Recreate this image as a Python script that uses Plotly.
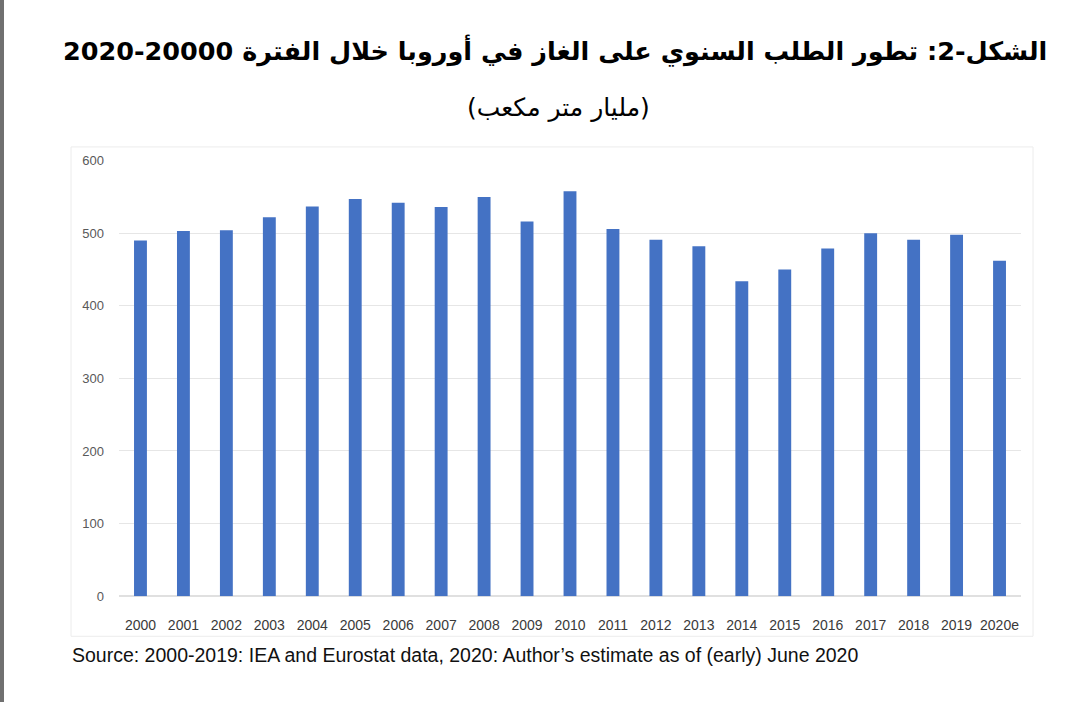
import plotly.graph_objects as go

years = ["2000", "2001", "2002", "2003", "2004", "2005", "2006", "2007", "2008", "2009", "2010",
         "2011", "2012", "2013", "2014", "2015", "2016", "2017", "2018", "2019", "2020e"]
demand = [490, 503, 504, 522, 537, 547, 542, 536, 550, 516, 558,
          506, 491, 482, 434, 450, 479, 500, 491, 498, 462]
y_ticks = [0, 100, 200, 300, 400, 500, 600]

title_text = "\u202bالشكل-2: تطور الطلب السنوي على الغاز في أوروبا خلال الفترة 20000-2020\u202c"
subtitle_text = "\u202b(مليار متر مكعب)\u202c"
source_text = "Source: 2000-2019: IEA and Eurostat data, 2020: Author\u2019s estimate as of (early) June 2020"

W, H = 1080, 702

def px(x):
    return x / W

def py(y):
    return 1 - y / H

fig = go.Figure()
fig.add_trace(go.Bar(x=years, y=demand, marker=dict(color="#4472C4", line=dict(width=0)),
                     hoverinfo="x+y"))

fig.update_layout(
    width=W, height=H, autosize=False,
    margin=dict(l=0, r=0, t=0, b=0),
    paper_bgcolor="white", plot_bgcolor="white",
    bargap=0.7, showlegend=False,
    xaxis=dict(domain=[px(119), px(1021)], type="category", showgrid=False,
               showline=False, ticks="", zeroline=False, ticklabelstandoff=19,
               tickfont=dict(family="Liberation Sans Narrow, Liberation Sans, Arial", size=14, color="#3a3a3a")),
    yaxis=dict(domain=[py(602), py(157)], range=[0, 600], tickvals=y_ticks,
               showgrid=True, gridcolor="#e6e6e6", gridwidth=1, zeroline=True,
               zerolinecolor="#e0e0e0", showline=False, ticks="", ticklabelstandoff=14,
               tickfont=dict(family="Liberation Sans, Arial", size=13, color="#595959")),
    annotations=[
        dict(text=title_text, x=0.514, y=py(44), xref="paper", yref="paper",
             showarrow=False, xanchor="center", yanchor="middle",
             font=dict(family="DejaVu Sans, serif", size=25.5, color="black", weight="bold")),
        dict(text=subtitle_text, x=0.517, y=py(103), xref="paper", yref="paper",
             showarrow=False, xanchor="center", yanchor="middle",
             font=dict(family="DejaVu Sans, serif", size=25, color="black")),
        dict(text=source_text, x=px(70), y=py(662), xref="paper", yref="paper",
             showarrow=False, xanchor="left", yanchor="middle",
             font=dict(family="Liberation Sans Narrow, Liberation Sans, Arial", size=19.5, color="#111111")),
    ],
    shapes=[
        dict(type="rect", xref="paper", yref="paper", x0=px(71), x1=px(1033), y0=py(643), y1=py(143),
             line=dict(color="#ececec", width=1), fillcolor="rgba(0,0,0,0)", layer="below"),
        dict(type="rect", xref="paper", yref="paper", x0=0, x1=px(4), y0=-0.05, y1=1.05,
             line=dict(width=0), fillcolor="#707070"),
    ],
)

fig.write_html("out.html")
